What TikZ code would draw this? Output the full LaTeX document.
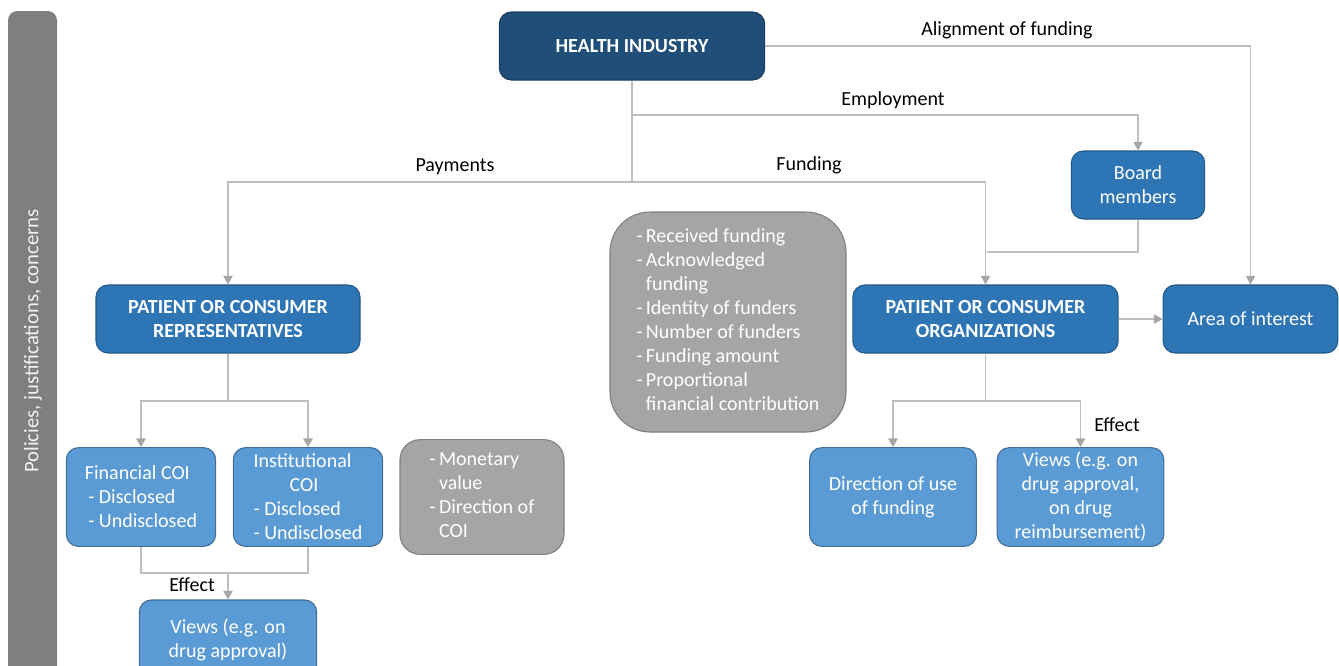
\documentclass[tikz,border=0pt]{standalone}
\usepackage{fontspec}
\setmainfont{Carlito}
\usepackage{tikz}
\usetikzlibrary{arrows.meta}
\definecolor{darkblue}{HTML}{1F4E79}
\definecolor{midblue}{HTML}{2E75B6}
\definecolor{lightblue}{HTML}{5B9BD5}
\definecolor{boxgrey}{HTML}{A5A5A5}
\definecolor{bargrey}{HTML}{7F7F7F}
\definecolor{linegrey}{HTML}{BFBFBF}
\definecolor{tipgrey}{HTML}{A6A6A6}

\begin{document}
\begin{tikzpicture}[x=0.75pt,y=-0.75pt,
      every node/.style={font=\fontsize{15}{18}\selectfont},
      box/.style={rectangle,rounded corners=9pt,draw,text=white,align=center,line width=0.8pt},
      topbox/.style={box,fill=darkblue,draw=darkblue!80!black,font=\fontsize{15}{18}\selectfont\bfseries},
      mainbox/.style={box,fill=midblue,draw=midblue!75!black,font=\fontsize{15}{18}\selectfont\bfseries},
      subbox/.style={box,fill=midblue,draw=midblue!75!black},
      leafbox/.style={box,fill=lightblue,draw=lightblue!70!black},
      notebox/.style={box,fill=boxgrey,draw=bargrey,align=left},
      lbl/.style={text=black},
      line/.style={draw=linegrey,line width=1pt},
      arr/.style={line,-{Triangle[width=7pt,length=6.5pt,color=tipgrey]}}]
    \useasboundingbox (0,0) rectangle (1339,665);

    % side bar
    \fill[bargrey,rounded corners=7pt] (8,11) rectangle (57,720);
    \node[rotate=90,text=white!95!black,font=\fontsize{15.5}{18}\selectfont] (side) at (33,341) {Policies, justifications, concerns};

    % boxes
    \node[topbox,minimum width=199pt,minimum height=51pt] (hi) at (632,46) {HEALTH INDUSTRY};
    \node[subbox,minimum width=100pt,minimum height=51pt] (board) at (1138,185) {Board\\members};
    \node[mainbox,minimum width=198pt,minimum height=51pt] (pcr) at (228,319) {PATIENT OR CONSUMER\\REPRESENTATIVES};
    \node[mainbox,minimum width=199pt,minimum height=51pt] (pco) at (985.5,319) {PATIENT OR CONSUMER\\ORGANIZATIONS};
    \node[subbox,minimum width=131pt,minimum height=51pt] (aoi) at (1250.5,319) {Area of interest};
    \node[notebox,rounded corners=30pt,minimum width=177pt,minimum height=165pt] (fundinfo) at (728,322)
      {\begin{tabular}{@{}r@{\,}l@{}}
       - & Received funding\\
       - & Acknowledged\\
         & funding\\
       - & Identity of funders\\
       - & Number of funders\\
       - & Funding amount\\
       - & Proportional\\
         & financial contribution
       \end{tabular}};
    \node[leafbox,align=left,minimum width=112pt,minimum height=74pt] (fin) at (141,497)
      {Financial COI\\ \,- Disclosed\\ \,- Undisclosed};
    \node[leafbox,align=left,minimum width=112pt,minimum height=74pt] (inst) at (308,497)
      {Institutional\\ \hspace*{27pt}COI\\- Disclosed\\- Undisclosed};
    \node[notebox,rounded corners=15pt,minimum width=123pt,minimum height=86pt] (coiinfo) at (482,497)
      {\begin{tabular}{@{}r@{\,}l@{}}
       - & Monetary\\
         & value\\
       - & Direction of\\
         & COI
       \end{tabular}};
    \node[leafbox,minimum width=133pt,minimum height=60pt] (viewsl) at (228,640) {Views (e.g. on\\drug approval)};
    \node[leafbox,minimum width=125pt,minimum height=74pt] (direc) at (893,497) {Direction of use\\of funding};
    \node[leafbox,minimum width=125pt,minimum height=74pt] (viewsr) at (1080.5,497)
      {Views (e.g. on\\drug approval,\\on drug\\reimbursement)};

    % junctions
    \coordinate (hiJ) at (632,182);
    \coordinate (empJ) at (632,115);
    \coordinate (brdJ) at (987,252);
    \coordinate (pcrJ) at (228,401);
    \coordinate (coiJ) at (228,573);
    \coordinate (pcoJ) at (985.5,401);

    % connectors
    \draw[line] (hi) -- (hiJ);
    \draw[arr] (hiJ) -| (pcr);
    \draw[arr] (hiJ) -| (pco);
    \draw[arr] (empJ) -| (board);
    \draw[arr] (hi) -| (aoi);
    \draw[line] (board) |- (brdJ);
    \draw[arr] (pco) -- (aoi);
    \draw[line] (pcr) -- (pcrJ);
    \draw[arr] (pcrJ) -| (fin);
    \draw[arr] (pcrJ) -| (inst);
    \draw[line] (fin) |- (coiJ) -| (inst);
    \draw[arr] (coiJ) -- (viewsl);
    \draw[line] (pco) -- (pcoJ);
    \draw[arr] (pcoJ) -| (direc);
    \draw[arr] (pcoJ) -| (viewsr);

    % labels
    \node[lbl] (alignlbl) at (1007,30) {Alignment of funding};
    \node[lbl] (emplbl) at (893,100) {Employment};
    \node[lbl] (paylbl) at (455,167) {Payments};
    \node[lbl] (fundlbl) at (809,165) {Funding};
    \node[lbl] (efflbl) at (192,585) {Effect};
    \node[lbl] (effrlbl) at (1117,425) {Effect};
  \end{tikzpicture}
\end{document}
